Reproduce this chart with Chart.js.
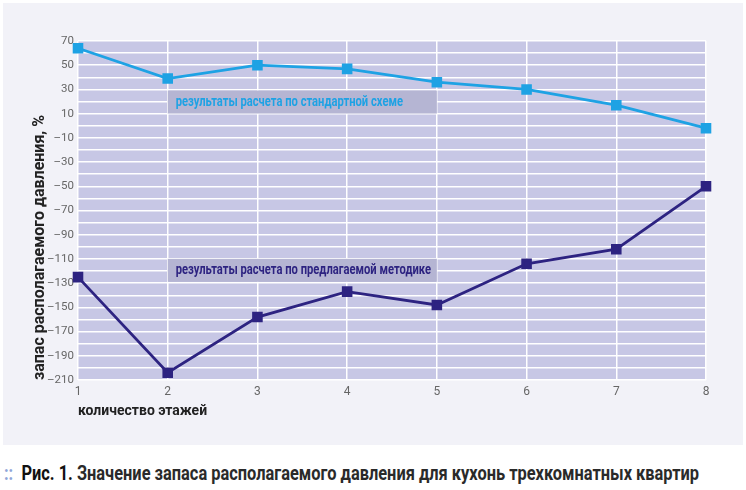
<!DOCTYPE html>
<html>
<head>
<meta charset="utf-8">
<script src="https://cdn.jsdelivr.net/npm/chart.js@4.4.1/dist/chart.umd.min.js"></script>
<style>
  body { margin: 0; background: #fff; width: 746px; height: 490px; position: relative; overflow: hidden; }
  #panel { position: absolute; left: 3px; top: 3px; width: 740px; height: 442px; background: #f2f2f8; }
  #caption { position: absolute; left: 4px; top: 461px; font-family: Roboto, sans-serif;
    font-size: 20px; font-weight: bold; color: #2a2a2a; white-space: nowrap;
    transform: scaleX(0.82); transform-origin: 0 0; }
  #caption .dots { color: #8fa6d8; margin-right: 10px; }
  #caption .num { color: #111; }
</style>
</head>
<body>
<div id="panel"><canvas id="chart" width="740" height="442"></canvas></div>
<div id="caption"><span class="dots">::</span><span class="num">Рис. 1.</span> Значение запаса располагаемого давления для кухонь трехкомнатных квартир</div>
<script>
const floors = ['1', '2', '3', '4', '5', '6', '7', '8'];
const standardValues = [64, 39, 50, 47, 36, 30, 17, -2];
const proposedValues = [-125, -204, -158, -137, -148, -114, -102, -50];
const standardLabel = 'результаты расчета по стандартной схеме';
const proposedLabel = 'результаты расчета по предлагаемой методике';
const yTitle = 'запас располагаемого давления, %';
const xTitle = 'количество этажей';

const fontFamily = 'Roboto, sans-serif';
const lightBlue = '#1ea2e4';
const darkBlue = '#2d2381';

// фон области графика
const plotBackground = {
  id: 'plotBackground',
  beforeDraw(chart) {
    const { ctx, chartArea: a } = chart;
    ctx.save();
    ctx.fillStyle = '#c7c7e5';
    ctx.fillRect(a.left, a.top, a.right - a.left, a.bottom - a.top);
    ctx.restore();
  }
};

// подписи серий в плашках (от 2-го до 5-го этажа)
const seriesLabels = {
  id: 'seriesLabels',
  afterDatasetsDraw(chart) {
    const { ctx, scales } = chart;
    const items = [
      { text: standardLabel, color: lightBlue, y: 20 },
      { text: proposedLabel, color: darkBlue, y: -119 }
    ];
    ctx.save();
    ctx.font = 'bold 14px ' + fontFamily;
    items.forEach(item => {
      const yc = scales.y.getPixelForValue(item.y);
      const boxLeft = scales.x.getPixelForValue(1);
      const boxRight = scales.x.getPixelForValue(4);
      ctx.fillStyle = '#b5b5d3';
      ctx.fillRect(boxLeft, yc - 11, boxRight - boxLeft, 23);
      ctx.save();
      ctx.translate(boxLeft + 8, yc + 1);
      ctx.scale(0.8, 1);
      ctx.fillStyle = item.color;
      ctx.textBaseline = 'middle';
      ctx.fillText(item.text, 0, 0);
      ctx.restore();
    });
    ctx.restore();
  }
};

new Chart(document.getElementById('chart'), {
  type: 'line',
  data: {
    labels: floors,
    datasets: [
      {
        data: standardValues,
        borderColor: lightBlue,
        backgroundColor: lightBlue,
        borderWidth: 2.8,
        pointStyle: 'rect',
        pointRadius: 5.5,
        tension: 0
      },
      {
        data: proposedValues,
        borderColor: darkBlue,
        backgroundColor: darkBlue,
        borderWidth: 2.8,
        pointStyle: 'rect',
        pointRadius: 5.5,
        tension: 0
      }
    ]
  },
  options: {
    responsive: false,
    animation: false,
    layout: { padding: { left: 0, right: 37, top: 38, bottom: 0 } },
    plugins: {
      legend: { display: false },
      tooltip: { enabled: false }
    },
    scales: {
      x: {
        offset: false,
        afterFit(scale) { scale.height = 65; },
        grid: { color: '#ffffff', lineWidth: 1.5, drawTicks: false },
        border: { display: false },
        ticks: { color: '#666', font: { family: fontFamily, size: 12 }, padding: 5 },
        title: {
          display: true, text: xTitle, align: 'start', color: '#222',
          font: { family: fontFamily, size: 14, weight: 'bold' }, padding: { top: 0, bottom: 25 }
        }
      },
      y: {
        min: -210,
        max: 70,
        afterFit(scale) { scale.width = 75; },
        grid: { color: '#ffffff', lineWidth: 1.5, drawTicks: false },
        border: { display: false },
        ticks: {
          stepSize: 10,
          autoSkip: false,
          color: '#666',
          font: { family: fontFamily, size: 11.5 },
          padding: 4,
          callback(v) {
            if ((70 - v) % 20 !== 0) return '';
            return v < 0 ? '\u2013' + Math.abs(v) : String(v);
          }
        },
        title: {
          display: true, text: yTitle, align: 'start', color: '#222',
          font: { family: fontFamily, size: 16, weight: 'bold' }, padding: { top: 27, bottom: 0 }
        }
      }
    }
  },
  plugins: [plotBackground, seriesLabels]
});
</script>
</body>
</html>
